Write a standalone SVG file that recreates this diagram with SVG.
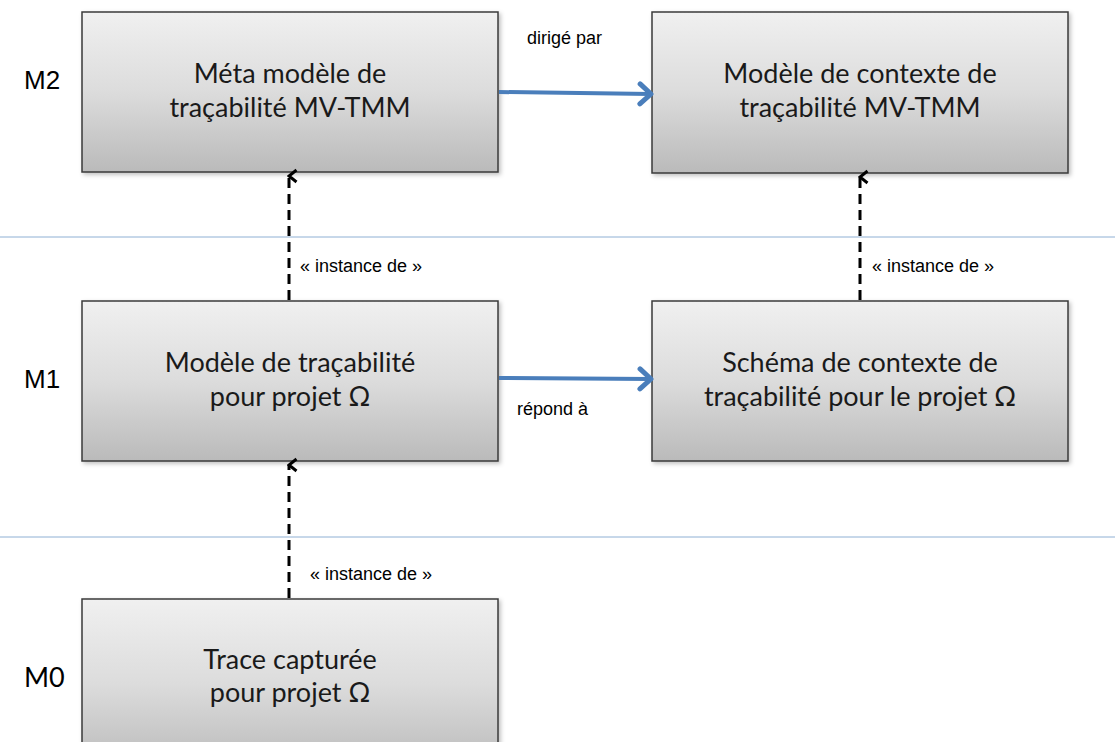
<svg xmlns="http://www.w3.org/2000/svg" width="1115" height="742" viewBox="0 0 1115 742">
<defs>
<linearGradient id="g" x1="0" y1="0" x2="0" y2="1">
<stop offset="0" stop-color="#f0f0f0"/>
<stop offset="0.5" stop-color="#dcdcdc"/>
<stop offset="1" stop-color="#bababa"/>
</linearGradient>
<filter id="sh" x="-5%" y="-5%" width="112%" height="115%">
<feDropShadow dx="2" dy="2" stdDeviation="2" flood-color="#000" flood-opacity="0.25"/>
</filter>
<marker id="open" markerWidth="16" markerHeight="16" refX="8" refY="2" orient="auto-start-reverse" markerUnits="userSpaceOnUse" viewBox="0 0 16 16">
<path d="M2,9.5 L8,2 L14,9.5" fill="none" stroke="#000" stroke-width="3"/>
</marker>
<marker id="blue" markerWidth="20" markerHeight="26" refX="16" refY="13" orient="auto" markerUnits="userSpaceOnUse" viewBox="0 0 20 26">
<path d="M5,3 L16,13 L5,23" fill="none" stroke="#4a7ebb" stroke-width="5" stroke-linecap="round" stroke-linejoin="round"/>
</marker>
</defs>
<style>
.box{fill:url(#g);stroke:#3a3a3a;stroke-width:1.5;filter:url(#sh)}
.bt{font-family:Lato,"Open Sans",sans-serif;font-size:27px;fill:#1a1a1a;text-anchor:middle}
.lv{font-family:"Liberation Sans",Arial,sans-serif;font-size:26px;fill:#000}
.lv0{font-family:Lato,"Open Sans",sans-serif;font-size:27px;fill:#000}
.lbl{font-family:"Liberation Sans",Arial,sans-serif;font-size:18px;fill:#000}
.sep{stroke:#8fb0d4;stroke-width:1}
.dash{stroke:#000;stroke-width:3;stroke-dasharray:10 6;fill:none;marker-end:url(#open)}
.blue{stroke:#4a7ebb;stroke-width:4;fill:none;marker-end:url(#blue)}
</style>
<rect width="1115" height="742" fill="#fff"/>
<g id="separators">
<line class="sep" x1="0" y1="237" x2="1115" y2="237"/>
<line class="sep" x1="0" y1="537" x2="1115" y2="537"/>
</g>
<g id="levels">
<text class="lv" x="24" y="89">M2</text>
<text class="lv" x="24" y="388">M1</text>
<text class="lv0" x="24" y="687">M0</text>
</g>
<g id="n1">
<rect class="box" x="82" y="12" width="416" height="160"/>
<text class="bt" x="290" y="83">Méta modèle de</text>
<text class="bt" x="290" y="117">traçabilité MV-TMM</text>
</g>
<g id="n2">
<rect class="box" x="652" y="12" width="416" height="161"/>
<text class="bt" x="860" y="83">Modèle de contexte de</text>
<text class="bt" x="860" y="117">traçabilité MV-TMM</text>
</g>
<g id="n3">
<rect class="box" x="82" y="301" width="416" height="160"/>
<text class="bt" x="290" y="372">Modèle de traçabilité</text>
<text class="bt" x="290" y="406">pour projet Ω</text>
</g>
<g id="n4">
<rect class="box" x="652" y="301" width="416" height="160"/>
<text class="bt" x="860" y="372">Schéma de contexte  de</text>
<text class="bt" x="860" y="406">traçabilité pour le projet Ω</text>
</g>
<g id="n5">
<rect class="box" x="82" y="599" width="416" height="170"/>
<text class="bt" x="290" y="669">Trace capturée</text>
<text class="bt" x="290" y="702">pour projet Ω</text>
</g>
<g id="connectors">
<line class="dash" x1="289" y1="300" x2="289" y2="176"/>
<line class="dash" x1="860" y1="300" x2="860" y2="177"/>
<line class="dash" x1="289" y1="598" x2="289" y2="465"/>
<line class="blue" x1="499" y1="92" x2="651" y2="94"/>
<line class="blue" x1="499" y1="378" x2="651" y2="379"/>
<text class="lbl" x="527" y="44">dirigé par</text>
<text class="lbl" x="517" y="415">répond à</text>
<text class="lbl" x="300" y="272">« instance de »</text>
<text class="lbl" x="872" y="272">« instance de »</text>
<text class="lbl" x="310" y="580">« instance de »</text>
</g>
</svg>
